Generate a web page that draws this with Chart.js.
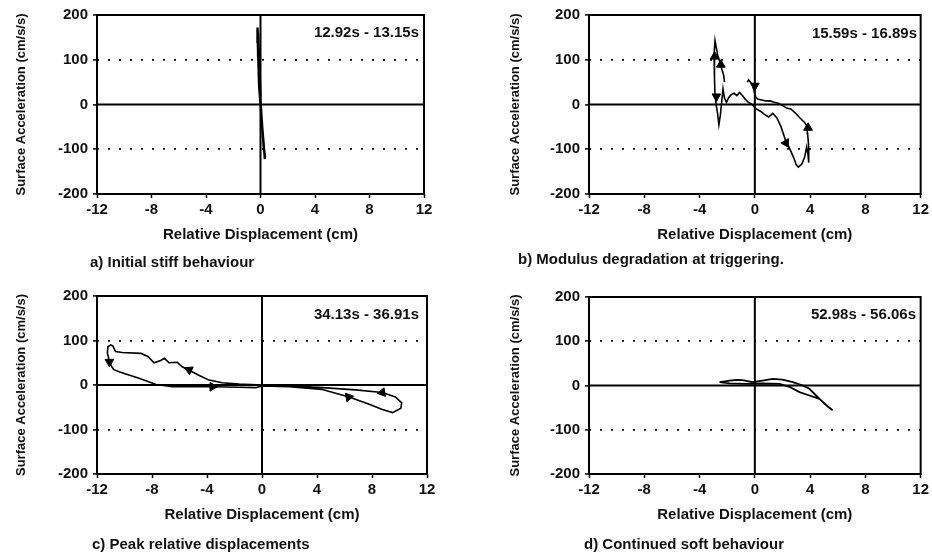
<!DOCTYPE html>
<html>
<head>
<meta charset="utf-8">
<script src="https://cdn.jsdelivr.net/npm/chart.js@4/dist/chart.umd.min.js"></script>
<style>
  html, body { margin: 0; padding: 0; background: #fff; }
  #wrap { position: relative; width: 932px; height: 555px; overflow: hidden; font-family: "Liberation Sans", Arial, sans-serif; }
  .pan { position: absolute; }
  .cap { position: absolute; font-weight: bold; font-size: 15px; color: #111; white-space: nowrap; transform: translateY(-50%); }
  .tl { position: absolute; font-weight: bold; font-size: 15px; color: #111; white-space: nowrap; transform: translate(-100%, -50%); }
</style>
</head>
<body>
<div id="wrap">
  <div class="pan" style="left:0px;top:0px;width:466px;height:280px"><canvas id="cA"></canvas></div>
  <div class="pan" style="left:466px;top:0px;width:466px;height:280px"><canvas id="cB"></canvas></div>
  <div class="pan" style="left:0px;top:280px;width:466px;height:275px"><canvas id="cC"></canvas></div>
  <div class="pan" style="left:466px;top:280px;width:466px;height:275px"><canvas id="cD"></canvas></div>

  <div class="tl" style="left:419px;top:31px">12.92s - 13.15s</div>
  <div class="tl" style="left:917px;top:32px">15.59s - 16.89s</div>
  <div class="tl" style="left:419px;top:313px">34.13s - 36.91s</div>
  <div class="tl" style="left:916px;top:313px">52.98s - 56.06s</div>

  <div class="cap" style="left:90px;top:261px">a) Initial stiff behaviour</div>
  <div class="cap" style="left:518px;top:258px">b) Modulus degradation at triggering.</div>
  <div class="cap" style="left:92px;top:543px">c) Peak relative displacements</div>
  <div class="cap" style="left:584px;top:543px">d) Continued soft behaviour</div>
</div>
<script>
// ---- axis ticks ----
const xTicks = [-12, -8, -4, 0, 4, 8, 12];
const yTicks = [-200, -100, 0, 100, 200];
const xTitle = 'Relative Displacement (cm)';
const yTitle = 'Surface Acceleration (cm/s/s)';

// ---- a) 12.92s - 13.15s ----
const dispA = [0.0, -0.1, -0.15, -0.2, -0.22, -0.12, -0.05, 0.0, 0.08, 0.15, 0.22, 0.3, 0.32, 0.25, 0.18, 0.1, 0.02, -0.08, -0.15, -0.18, -0.1, 0.0];
const accA  = [0, 40, 90, 140, 172, 120, 60, 10, -30, -60, -90, -110, -122, -95, -70, -40, -5, 50, 110, 160, 100, 20];
const arrowXA = [];
const arrowYA = [];
const arrowDirA = [];

// ---- b) 15.59s - 16.89s ----
const dispB = [-2.2, -2.25, -2.4, -2.5, -2.7, -2.88, -2.95, -2.92, -2.88, -2.8, -2.7, -2.6, -2.5, -2.4, -2.3, -2.2, -2.05, -1.9, -1.7, -1.5, -1.3, -1.1, -0.9, -0.7, -0.5, -0.2, 0.1, 0.4, 0.7, 1.0, 1.3, 1.6, 1.9, 2.2, 2.5, 2.8, 3.0, 3.15, 3.4, 3.6, 3.75, 3.85, 3.92, 3.88, 3.82, 3.8, 3.6, 3.4, 3.2, 2.9, 2.6, 2.3, 2.0, 1.7, 1.4, 1.1, 0.8, 0.5, 0.2, 0.05, -0.05, -0.2, -0.45, -0.55];
const accB  = [50, 65, 80, 92, 112, 143, 110, 60, 20, 0, -20, -45, -25, 5, 35, 15, 5, 15, 22, 25, 20, 27, 20, 12, 6, 0, -10, -15, -22, -28, -20, -30, -50, -78, -97, -118, -135, -140, -133, -118, -95, -112, -130, -95, -65, -50, -40, -34, -28, -18, -10, -8, -2, 3, 5, 8, 8, 10, 12, 18, 30, 45, 55, 50];
const arrowXB = [-2.91, -2.46, -2.78, 0.0, 2.25, 3.85];
const arrowYB = [107, 89, 18, 42, -86, -52];
const arrowDirB = [0, 0, 180, 180, 150, 0];

// ---- c) 34.13s - 36.91s ----
const dispC = [0, -0.8, -1.67, -2.9, -3.85, -4.6, -5.3, -5.8, -6.16, -6.76, -7.1, -7.37, -7.85, -8.3, -8.8, -10.16, -10.65, -10.85, -11.0, -11.2, -11.25, -11.15, -11.0, -10.8, -10.4, -8.95, -7.7, -6.5, -5.3, -3.6, -1.67, -0.45, 0, 1.96, 4.39, 6.33, 7.8, 8.75, 9.5, 10.1, 10.16, 9.7, 8.75, 6.8, 4.39, 1.96, 0];
const accC  = [0, 1, 2, 5, 11, 22, 33, 41, 51, 50, 60, 55, 50, 64, 71, 73, 75, 88, 90, 86, 72, 60, 45, 35, 30, 15, 1, -4, -3, -4, -5, -6, -2, -4, -10, -27, -43, -55, -62, -52, -40, -27, -17, -11, -6, -2, 0];
const arrowXC = [-11.1, -5.3, -3.6, 8.75, 6.3];
const arrowYC = [52, 34, -4, -17, -27];
const arrowDirC = [180, -65, 90, -100, 80];

// ---- d) 52.98s - 56.06s ----
const dispD = [-2.55, -1.83, -1.3, -0.89, -0.17, 0.56, 1.3, 2.0, 2.75, 3.47, 3.95, 4.43, 5.03, 5.63, 5.3, 4.67, 3.95, 3.23, 2.5, 1.78, 0.56, -0.6, -1.83, -2.55];
const accD  = [7.5, 11, 12.5, 12, 7.5, 11, 15, 13.5, 7.5, 0, -7.5, -22.6, -41, -56, -48, -30, -22.6, -15, -3, 3.8, 4.5, 3.8, 5, 7.5];
const arrowXD = [];
const arrowYD = [];
const arrowDirD = [];

const FONT = '"Liberation Sans", Arial, sans-serif';

const framePlugin = {
  id: 'frame',
  beforeDatasetsDraw(chart) {
    const { ctx, chartArea: a, scales } = chart;
    const x0 = scales.x.getPixelForValue(0);
    const y0 = scales.y.getPixelForValue(0);
    ctx.save();
    ctx.strokeStyle = '#000';
    ctx.lineWidth = 2;
    ctx.beginPath();
    ctx.moveTo(a.left, y0); ctx.lineTo(a.right, y0);
    ctx.moveTo(x0, a.top); ctx.lineTo(x0, a.bottom);
    ctx.stroke();
    ctx.restore();
  },
  afterDatasetsDraw(chart) {
    const { ctx, chartArea: a } = chart;
    ctx.save();
    ctx.strokeStyle = '#000';
    ctx.lineWidth = 2;
    ctx.strokeRect(a.left, a.top, a.right - a.left, a.bottom - a.top);
    ctx.restore();
  }
};

function makeChart(id, xs, ys, ax, ay, adir, lay, lw) {
  const line = xs.map((x, i) => ({ x: x, y: ys[i] }));
  const arr = ax.map((x, i) => ({ x: x, y: ay[i] }));
  return new Chart(document.getElementById(id), {
    type: 'scatter',
    data: {
      datasets: [
        { data: line, showLine: true, borderColor: '#000', borderWidth: lw, pointRadius: 0, tension: 0, fill: false },
        { data: arr, showLine: false, pointStyle: 'triangle', pointRadius: 5,
          pointBackgroundColor: '#000', pointBorderColor: '#000', pointBorderWidth: 1,
          rotation: (c) => adir[c.dataIndex] || 0 }
      ]
    },
    options: {
      responsive: true,
      maintainAspectRatio: false,
      animation: false,
      events: [],
      layout: { padding: { left: lay.pl, right: lay.pr, top: lay.pt, bottom: lay.pb } },
      plugins: { legend: { display: false }, tooltip: { enabled: false } },
      scales: {
        x: {
          type: 'linear', min: -12, max: 12,
          afterBuildTicks: (s) => { s.ticks = xTicks.map(v => ({ value: v })); },
          afterFit: (s) => { s.height = lay.xh; },
          ticks: { color: '#111', font: { family: FONT, size: 15, weight: 'bold' }, padding: 3, maxRotation: 0 },
          grid: { display: true, color: 'rgba(0,0,0,0)', drawTicks: true, tickLength: 4, tickColor: '#000', tickWidth: 1.5 },
          border: { display: false },
          title: { display: true, text: xTitle, color: '#111', font: { family: FONT, size: 15, weight: 'bold' }, padding: { top: 4, bottom: 3 } }
        },
        y: {
          type: 'linear', min: -200, max: 200,
          afterBuildTicks: (s) => { s.ticks = yTicks.map(v => ({ value: v })); },
          afterFit: (s) => { s.width = lay.yw; },
          ticks: { color: '#111', font: { family: FONT, size: 15, weight: 'bold' }, padding: 5 },
          grid: {
            display: true,
            color: (c) => (c.tick && Math.abs(c.tick.value) === 100) ? '#000' : 'rgba(0,0,0,0)',
            lineWidth: 1.8,
            drawTicks: true, tickLength: 4, tickColor: '#000', tickWidth: 1.5
          },
          border: { display: false, dash: [2, 9] },
          title: { display: true, text: yTitle, color: '#111', font: { family: FONT, size: 13, weight: 'bold' }, padding: { top: 3, bottom: 4 } }
        }
      }
    },
    plugins: [framePlugin]
  });
}

makeChart('cA', dispA, accA, arrowXA, arrowYA, arrowDirA, { pl: 11, pr: 42, pt: 15, pb: 33, yw: 86, xh: 53 }, 2.4);
makeChart('cB', dispB, accB, arrowXB, arrowYB, arrowDirB, { pl: 39, pr: 11, pt: 15, pb: 33, yw: 84, xh: 53 }, 1.6);
makeChart('cC', dispC, accC, arrowXC, arrowYC, arrowDirC, { pl: 11, pr: 39, pt: 16, pb: 28, yw: 86, xh: 53 }, 1.6);
makeChart('cD', dispD, accD, arrowXD, arrowYD, arrowDirD, { pl: 39, pr: 11, pt: 17, pb: 28, yw: 84, xh: 53 }, 1.8);
</script>
</body>
</html>
